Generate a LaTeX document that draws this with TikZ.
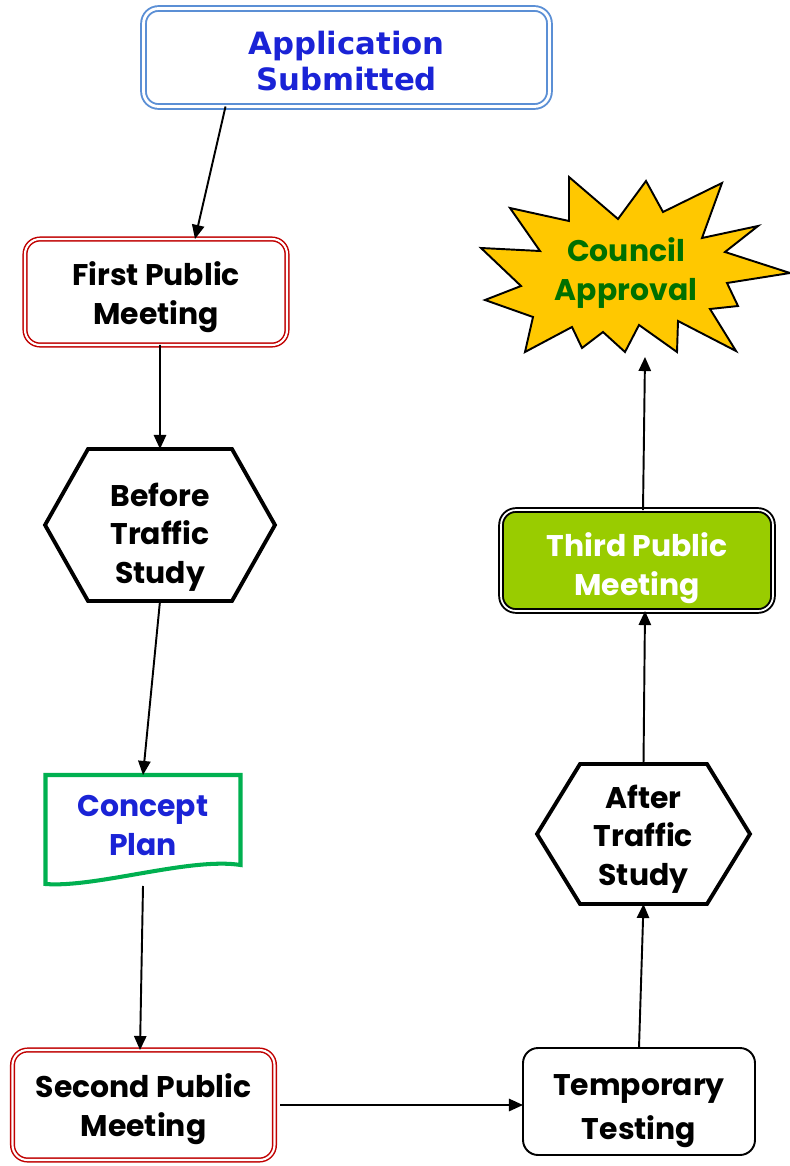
\documentclass[tikz,border=0pt]{standalone}
\usepackage{fontspec}
\setmainfont{Poppins}
\newfontfamily\appfont{DejaVu Sans}
\usepackage{tikz}
\usetikzlibrary{
  arrows.meta
}
\definecolor{appText}{RGB}{26,35,214}
\definecolor{appFrame}{RGB}{91,143,213}
\definecolor{meetingRed}{RGB}{192,0,0}
\definecolor{planGreen}{RGB}{0,176,80}
\definecolor{thirdFill}{RGB}{153,204,0}
\definecolor{approvalGold}{RGB}{255,200,0}
\definecolor{approvalText}{RGB}{0,112,0}
% lines of a stage, moved by #1 without changing the box
\newcommand{\stage}[2][0pt]{\raisebox{#1}[\height][\depth]{\begin{tabular}{@{}c@{}}#2\end{tabular}}}
\tikzset{
  every node/.style={font=\bfseries\fontsize{17}{22}\selectfont,inner sep=0pt,outer sep=0pt},
  stagebox/.style={rounded corners=0.3cm},
  appbox/.style={stagebox,draw=appFrame,double=white,line width=1.1pt,double distance=1.6pt,
    text=appText,font=\appfont\bfseries\fontsize{17.5}{20.5}\selectfont,
    minimum width=8.12cm,minimum height=1.96cm},
  meeting/.style={stagebox,draw=meetingRed,double=white,line width=0.85pt,double distance=1.2pt,
    minimum width=5.24cm},
  hexbox/.style={},
  hexline/.style={line width=2.2pt,line join=miter},
  planbox/.style={text=appText,minimum width=3.9cm,minimum height=2.22cm},
  docline/.style={draw=planGreen,line width=2.3pt},
  testbox/.style={stagebox,draw,line width=1.1pt,font=\bfseries\fontsize{17}{25.5}\selectfont,
    minimum width=4.64cm,minimum height=2.14cm},
  thirdbox/.style={stagebox,draw,fill=thirdFill,double=white,line width=1.1pt,double distance=1pt,
    text=white,minimum width=5.44cm,minimum height=2.02cm},
  approval/.style={text=approvalText,minimum width=6.2cm,minimum height=3.48cm},
  flow/.style={-{Triangle[length=8pt,width=7pt]},line width=1.1pt},
}

\begin{document}
\begin{tikzpicture}[x=0.02cm,y=-0.02cm]
\useasboundingbox (0,0) rectangle (790,1166);

% the starburst behind the last stage
\draw[fill=approvalGold,line width=1.1pt,line join=miter]
  (569,177) -- (618,219) -- (646,181) -- (663,212) -- (722,183) -- (702,238)
  -- (758,226) -- (725,252) -- (790,273) -- (727,283) -- (738,306) -- (710,309)
  -- (736,351) -- (678,321) -- (677,352) -- (639,325) -- (625,352) -- (603,332)
  -- (582,348) -- (572,327) -- (525,352) -- (533,317) -- (485,300) -- (521,286)
  -- (481,248) -- (540,251) -- (510,208) -- (569,221) -- cycle;

\node[appbox] (app) at (346.5,57.5) {\stage[-0.15cm]{Application\\Submitted}};
\node[meeting,minimum height=2.12cm] (first) at (156,292) {\stage[-0.1cm]{First Public\\Meeting}};
\node[hexbox,minimum width=4.6cm,minimum height=3.04cm] (before) at (160,525) {\stage[-0.24cm]{Before\\Traffic\\Study}};
\node[planbox] (concept) at (143,830.5) {\stage[0.05cm]{Concept\\Plan}};
\node[meeting,minimum height=2.2cm] (second) at (143.5,1105) {\stage[-0.09cm]{Second Public\\Meeting}};
\node[testbox] (temp) at (639,1101.5) {\stage[-0.14cm]{Temporary\\Testing}};
\node[hexbox,minimum width=4.26cm,minimum height=2.8cm] (after) at (643.5,834) {\stage[-0.1cm]{After\\Traffic\\Study}};
\node[thirdbox] (third) at (637,560.5) {\stage[-0.15cm]{Third Public\\Meeting}};
\node[approval] (council) at (626,270) {\stage[-0.06cm]{Council\\Approval}};

\foreach \h in {before,after} {
  \draw[hexline] (\h.west) -- ([xshift=0.86cm]\h.north west) -- ([xshift=-0.86cm]\h.north east)
    -- (\h.east) -- ([xshift=-0.86cm]\h.south east) -- ([xshift=0.86cm]\h.south west) -- cycle;
}
\draw[docline] (concept.north west) -- (concept.north east) -- ([yshift=0.42cm]concept.south east)
  .. controls +(-50,-8) and +(50,4) .. ([yshift=0.04cm]concept.south west) -- cycle;

\draw[flow] ([xshift=-2.42cm]app.south) -- ([xshift=0.78cm]first.north);
\draw[flow] ([xshift=0.08cm]first.south) -- (before.north);
\draw[flow] (before.south) -- (concept.north);
\draw[flow] (concept.south) -- ([xshift=-0.07cm]second.north);
\draw[flow] ([xshift=0.12cm]second.east) -- (second.east -| temp.west);
\draw[flow] (temp.north) -- (after.south);
\draw[flow] (after.north) -- ([xshift=0.16cm]third.south);
\draw[flow] ([xshift=0.12cm]third.north) -- ([xshift=0.38cm]council.south);
\end{tikzpicture}
\end{document}
